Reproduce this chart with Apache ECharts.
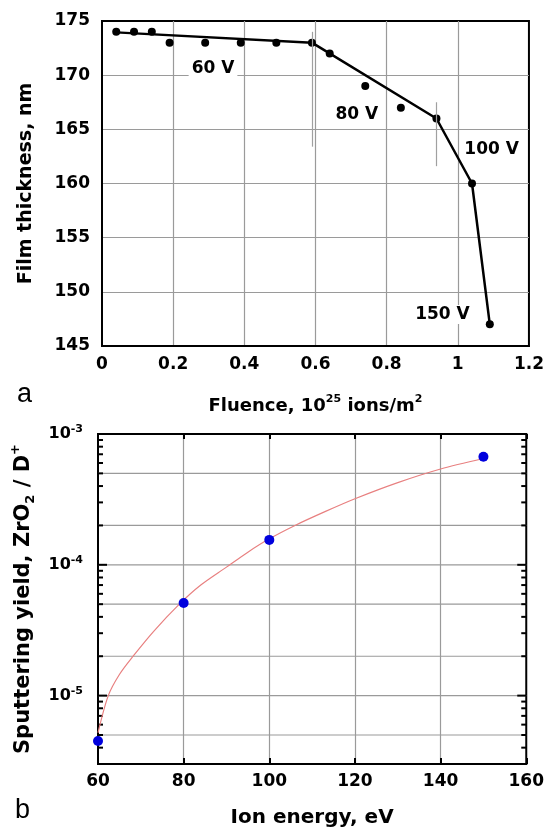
<!DOCTYPE html>
<html>
<head>
<meta charset="utf-8">
<script src="https://cdn.jsdelivr.net/npm/echarts@6/dist/echarts.min.js"></script>
<style>
  html, body { margin: 0; padding: 0; background: #fff; }
  #main { width: 547px; height: 829px; }
</style>
</head>
<body>
<div id="main"></div>
<script>
// (a) film thickness vs fluence
var fluence = [0.04, 0.09, 0.14, 0.19, 0.29, 0.39, 0.49, 0.59, 0.64, 0.74, 0.84, 0.94, 1.04, 1.09];
var thickness = [174, 174, 174, 173, 173, 173, 173, 173, 172, 169, 167, 166, 160, 147];
var fitFluence = [0.04, 0.59, 0.94, 1.04, 1.09];
var fitThickness = [173.95, 173, 166, 160, 147];
// thin grey markers where the ion energy was changed
var stepX = [0.59, 0.94];
var stepTop = [174, 167.5];
var stepBottom = [163.4, 161.6];
var voltLabels = ['60 V', '80 V', '100 V', '150 V'];
var voltX = [0.312, 0.716, 1.095, 0.957];
var voltY = [170.6, 166.4, 163.1, 147.9];

// (b) sputtering yield vs ion energy
var energy = [60, 80, 100, 150];
var yieldVal = [4.5e-6, 5.1e-5, 1.55e-4, 6.7e-4];
var fitEnergy = [60, 62.4, 65, 68.2, 73, 79, 84, 90, 95, 100, 106, 113, 120, 130, 140, 150];
var fitYield = [5.2e-6, 1.0e-5, 1.45e-5, 2.0e-5, 3.1e-5, 5.0e-5, 7.0e-5, 9.6e-5, 1.25e-4, 1.58e-4, 2.0e-4, 2.55e-4, 3.2e-4, 4.25e-4, 5.4e-4, 6.5e-4];
var logTicks = [4e-6, 5e-6, 6e-6, 7e-6, 8e-6, 9e-6,
                1e-5, 2e-5, 3e-5, 4e-5, 5e-5, 6e-5, 7e-5, 8e-5, 9e-5,
                1e-4, 2e-4, 3e-4, 4e-4, 5e-4, 6e-4, 7e-4, 8e-4, 9e-4];
var logGrid = [5e-6, 1e-5, 2e-5, 5e-5, 1e-4, 2e-4, 5e-4];

var FONT = 'DejaVu Sans';
var GRIDC = '#9a9a9a';

function isDecade(v) {
    var e = Math.log10(v);
    return Math.abs(e - Math.round(e)) < 1e-6;
}

var chart = echarts.init(document.getElementById('main'));

chart.setOption({
    animation: false,
    grid: [
        { left: 102, top: 21, width: 427, height: 325, show: true, borderColor: '#000', borderWidth: 2 },
        { left: 98, top: 434, width: 431, height: 330, show: true, borderColor: '#000', borderWidth: 2 }
    ],
    xAxis: [
        {
            gridIndex: 0, type: 'value', min: 0, max: 1.2, interval: 0.2,
            name: '{n|Fluence, 10}{s|25}{n| ions/m}{s|2}',
            nameLocation: 'middle', nameGap: 48,
            nameTextStyle: {
                rich: {
                    n: { fontFamily: FONT, fontWeight: 'bold', fontSize: 18, lineHeight: 24, color: '#000' },
                    s: { fontFamily: FONT, fontWeight: 'bold', fontSize: 11, lineHeight: 12, verticalAlign: 'top', color: '#000' }
                }
            },
            axisLine: { lineStyle: { color: '#000', width: 2 } },
            axisTick: { show: false },
            axisLabel: { fontFamily: FONT, fontWeight: 'bold', fontSize: 17, color: '#000', margin: 10 },
            splitLine: { show: true, showMinLine: false, showMaxLine: false, lineStyle: { color: GRIDC, width: 1.2 } }
        },
        {
            gridIndex: 1, type: 'value', min: 60, max: 160, interval: 20,
            name: 'Ion energy, eV',
            nameLocation: 'middle', nameGap: 44,
            nameTextStyle: { fontFamily: FONT, fontWeight: 'bold', fontSize: 20, color: '#000' },
            axisLine: { lineStyle: { color: '#000', width: 2 } },
            axisTick: { inside: true, length: 6, lineStyle: { color: '#000', width: 2 } },
            axisLabel: { fontFamily: FONT, fontWeight: 'bold', fontSize: 17, color: '#000', margin: 9 },
            splitLine: { show: true, showMinLine: false, showMaxLine: false, lineStyle: { color: GRIDC, width: 1.2 } }
        },
        {
            gridIndex: 1, type: 'value', min: 60, max: 160, interval: 20, position: 'top',
            axisLine: { lineStyle: { color: '#000', width: 2 } },
            axisTick: { inside: true, length: 5, lineStyle: { color: '#000', width: 2 } },
            axisLabel: { show: false },
            splitLine: { show: false }
        }
    ],
    yAxis: [
        {
            gridIndex: 0, type: 'value', min: 145, max: 175, interval: 5,
            name: 'Film thickness, nm',
            nameLocation: 'middle', nameRotate: 90, nameGap: 66,
            nameTextStyle: { fontFamily: FONT, fontWeight: 'bold', fontSize: 19, color: '#000' },
            axisLine: { show: true, lineStyle: { color: '#000', width: 2 } },
            axisTick: { show: false },
            axisLabel: { fontFamily: FONT, fontWeight: 'bold', fontSize: 17, color: '#000', margin: 12 },
            splitLine: { show: true, showMinLine: false, showMaxLine: false, lineStyle: { color: GRIDC, width: 1.2 } }
        },
        {
            gridIndex: 1, type: 'log', logBase: 10, min: 3e-6, max: 1e-3,
            name: '{n|Sputtering yield, ZrO}{d|2}{n| / D}{u|+}',
            nameLocation: 'middle', nameRotate: 90, nameGap: 56,
            nameTextStyle: {
                rich: {
                    n: { fontFamily: FONT, fontWeight: 'bold', fontSize: 21, lineHeight: 28, color: '#000' },
                    d: { fontFamily: FONT, fontWeight: 'bold', fontSize: 13, lineHeight: 12, verticalAlign: 'bottom', color: '#000' },
                    u: { fontFamily: FONT, fontWeight: 'bold', fontSize: 13, lineHeight: 12, verticalAlign: 'top', color: '#000' }
                }
            },
            axisLine: { show: true, lineStyle: { color: '#000', width: 2 } },
            axisTick: { show: false },
            axisLabel: {
                margin: 15,
                formatter: function (v) {
                    if (!isDecade(v)) return '';
                    return '{b|10}{s|' + Math.round(Math.log10(v)) + '}';
                },
                rich: {
                    b: { fontFamily: FONT, fontWeight: 'bold', fontSize: 16, lineHeight: 20, color: '#000' },
                    s: { fontFamily: FONT, fontWeight: 'bold', fontSize: 11, lineHeight: 10, verticalAlign: 'top', color: '#000' }
                }
            },
            splitLine: { show: false }
        }
    ],
    graphic: [
        { type: 'text', left: 17, top: 381, style: { text: 'a', fontFamily: 'Liberation Sans', fontSize: 27, fill: '#000' } },
        { type: 'text', left: 15, top: 797, style: { text: 'b', fontFamily: 'Liberation Sans', fontSize: 27, fill: '#000' } }
    ],
    series: [
        {
            type: 'line', xAxisIndex: 0, yAxisIndex: 0, z: 3,
            data: fitFluence.map(function (x, i) { return [x, fitThickness[i]]; }),
            symbol: 'none',
            lineStyle: { color: '#000', width: 2.5 },
            markLine: {
                silent: true, symbol: ['none', 'none'],
                label: { show: false },
                lineStyle: { color: '#a0a0a0', width: 1.2, type: 'solid' },
                data: stepX.map(function (x, i) {
                    return [{ coord: [x, stepTop[i]] }, { coord: [x, stepBottom[i]] }];
                })
            }
        },
        {
            type: 'scatter', xAxisIndex: 0, yAxisIndex: 0, z: 4,
            data: fluence.map(function (x, i) { return [x, thickness[i]]; }),
            symbolSize: 8,
            itemStyle: { color: '#000', opacity: 1 }
        },
        {
            type: 'scatter', xAxisIndex: 0, yAxisIndex: 0, z: 5,
            symbolSize: 0,
            data: voltLabels.map(function (t, i) { return { name: t, value: [voltX[i], voltY[i]] }; }),
            itemStyle: { opacity: 1 },
            label: {
                show: true, position: 'inside', formatter: '{b}',
                fontFamily: FONT, fontWeight: 'bold', fontSize: 17, color: '#000',
                backgroundColor: '#fff', padding: [1, 3]
            }
        },
        {
            type: 'custom', xAxisIndex: 1, yAxisIndex: 1, z: 1, silent: true,
            data: logTicks.map(function (v) { return [60, v]; }),
            encode: { x: 0, y: 1 },
            renderItem: function (params, api) {
                var v = api.value(1);
                var l = api.coord([60, v]);
                var r = api.coord([160, v]);
                var len = isDecade(v) ? 9 : 5;
                var kids = [];
                if (logGrid.indexOf(v) >= 0) {
                    kids.push({ type: 'line', shape: { x1: l[0], y1: l[1], x2: r[0], y2: r[1] }, style: { stroke: GRIDC, lineWidth: 1.2 } });
                }
                kids.push({ type: 'line', shape: { x1: l[0], y1: l[1], x2: l[0] + len, y2: l[1] }, style: { stroke: '#000', lineWidth: 2 } });
                kids.push({ type: 'line', shape: { x1: r[0], y1: r[1], x2: r[0] - len, y2: r[1] }, style: { stroke: '#000', lineWidth: 2 } });
                return { type: 'group', children: kids };
            }
        },
        {
            type: 'line', xAxisIndex: 1, yAxisIndex: 1, z: 3,
            data: fitEnergy.map(function (x, i) { return [x, fitYield[i]]; }),
            smooth: 0.3, symbol: 'none',
            lineStyle: { color: '#e88080', width: 1.2 }
        },
        {
            type: 'scatter', xAxisIndex: 1, yAxisIndex: 1, z: 4,
            data: energy.map(function (x, i) { return [x, yieldVal[i]]; }),
            symbolSize: 10,
            itemStyle: { color: '#0000dd', opacity: 1 }
        }
    ]
});
</script>
</body>
</html>
